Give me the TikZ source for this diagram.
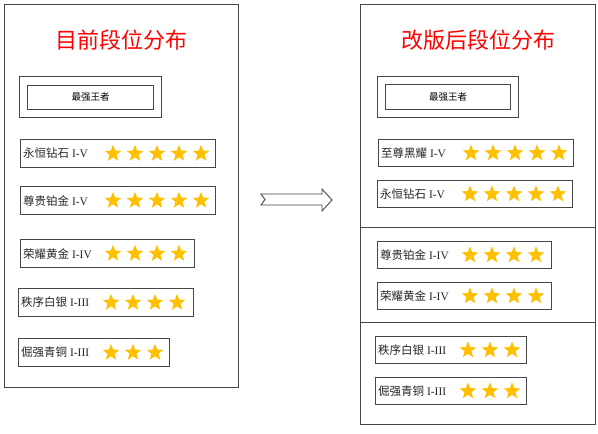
\documentclass[tikz,border=0pt]{standalone}
\usepackage{fontspec}
\setmainfont{Liberation Serif}
\newfontfamily\cjk{Noto Sans CJK SC}
\usetikzlibrary{shapes.geometric}
\definecolor{gold}{RGB}{255,192,0}
\definecolor{frame}{RGB}{70,70,70}
\tikzset{
  panel/.style={draw=frame, line width=1pt, fill=white},
  rankbox/.style={draw=frame, line width=1.2pt, inner sep=0pt, rectangle},
  kingbox/.style={draw=frame, line width=1.2pt, inner sep=0pt, rectangle},
  lbl/.style={font=\fontsize{11.5}{13}\selectfont, inner sep=0pt, text=black!85},
  ttl/.style={font=\cjk\fontsize{22}{26}\selectfont, text=red, inner sep=0pt},
  kingtxt/.style={font=\cjk\fontsize{9.5}{11}\selectfont, inner sep=0pt},
  gstar/.style={star, star points=5, star point ratio=2.35, fill=gold, draw=none, minimum size=17.5pt, inner sep=0pt},
  blockarrow/.style={draw=frame, line width=0.9pt, fill=white, line join=miter}
}
\newcommand\rankrow[8]{%
  \node[rankbox, minimum width=#4pt, minimum height=#5pt, anchor=north west] (#1) at (#2,#3) {};
  \node[lbl, anchor=west] (#1-t) at ([xshift=3pt]#1.west) {{\cjk #6} #7};
  \foreach \i in {1,...,#8} {\node[gstar] (#1-s\i) at ([xshift={93pt+22pt*(\i-1)}]#1.west) {};}
}
\begin{document}
\begin{tikzpicture}[x=1pt,y=-1pt]
\useasboundingbox (0,0) rectangle (598,434);
\fill[white] (0,0) rectangle (598,434);
% left panel
\node[panel, minimum width=234pt, minimum height=383pt, anchor=north west, inner sep=0pt] (lp) at (4,4) {};
\node[ttl] (lt) at (122,40) {目前段位分布};
\node[kingbox, minimum width=142pt, minimum height=41pt, anchor=north west] (lk) at (19,76) {};
\node[kingbox, minimum width=126pt, minimum height=24pt] (lki) at (lk.center) {};
\node[kingtxt] (lkt) at (lki.center) {最强王者};
\rankrow{l1}{20}{139}{195}{28}{永恒钻石}{I-V}{5}
\rankrow{l2}{20}{186}{195}{28}{尊贵铂金}{I-V}{5}
\rankrow{l3}{20}{239}{174}{28}{荣耀黄金}{I-IV}{4}
\rankrow{l4}{18}{288}{175}{28}{秩序白银}{I-III}{4}
\rankrow{l5}{18}{338}{151}{28}{倔强青铜}{I-III}{3}
% arrow
\draw[blockarrow] (261,194) -- (322,194) -- (322,189) -- (332,200) -- (322,211) -- (322,205) -- (261,205) -- (265,199.5) -- cycle;
% right panel
\node[panel, minimum width=235pt, minimum height=420pt, anchor=north west, inner sep=0pt] (rp) at (360,4) {};
\draw[draw=frame, line width=1pt] (rp.west |- 0,227) coordinate (d1a) -- (rp.east |- 0,227) coordinate (d1b);
\draw[draw=frame, line width=1pt] (rp.west |- 0,322) coordinate (d2a) -- (rp.east |- 0,322) coordinate (d2b);
\node[ttl] (rt) at (478,40) {改版后段位分布};
\node[kingbox, minimum width=141pt, minimum height=41pt, anchor=north west] (rk) at (377,76) {};
\node[kingbox, minimum width=125pt, minimum height=25pt] (rki) at (rk.center) {};
\node[kingtxt] (rkt) at (rki.center) {最强王者};
\rankrow{r1}{378}{139}{195}{27}{至尊黑耀}{I-V}{5}
\rankrow{r2}{377}{180}{195}{27}{永恒钻石}{I-V}{5}
\rankrow{r3}{377}{241}{174}{27}{尊贵铂金}{I-IV}{4}
\rankrow{r4}{377}{282}{174}{27}{荣耀黄金}{I-IV}{4}
\rankrow{r5}{375}{336}{151}{27}{秩序白银}{I-III}{3}
\rankrow{r6}{375}{377}{151}{27}{倔强青铜}{I-III}{3}
\end{tikzpicture}
\end{document}
